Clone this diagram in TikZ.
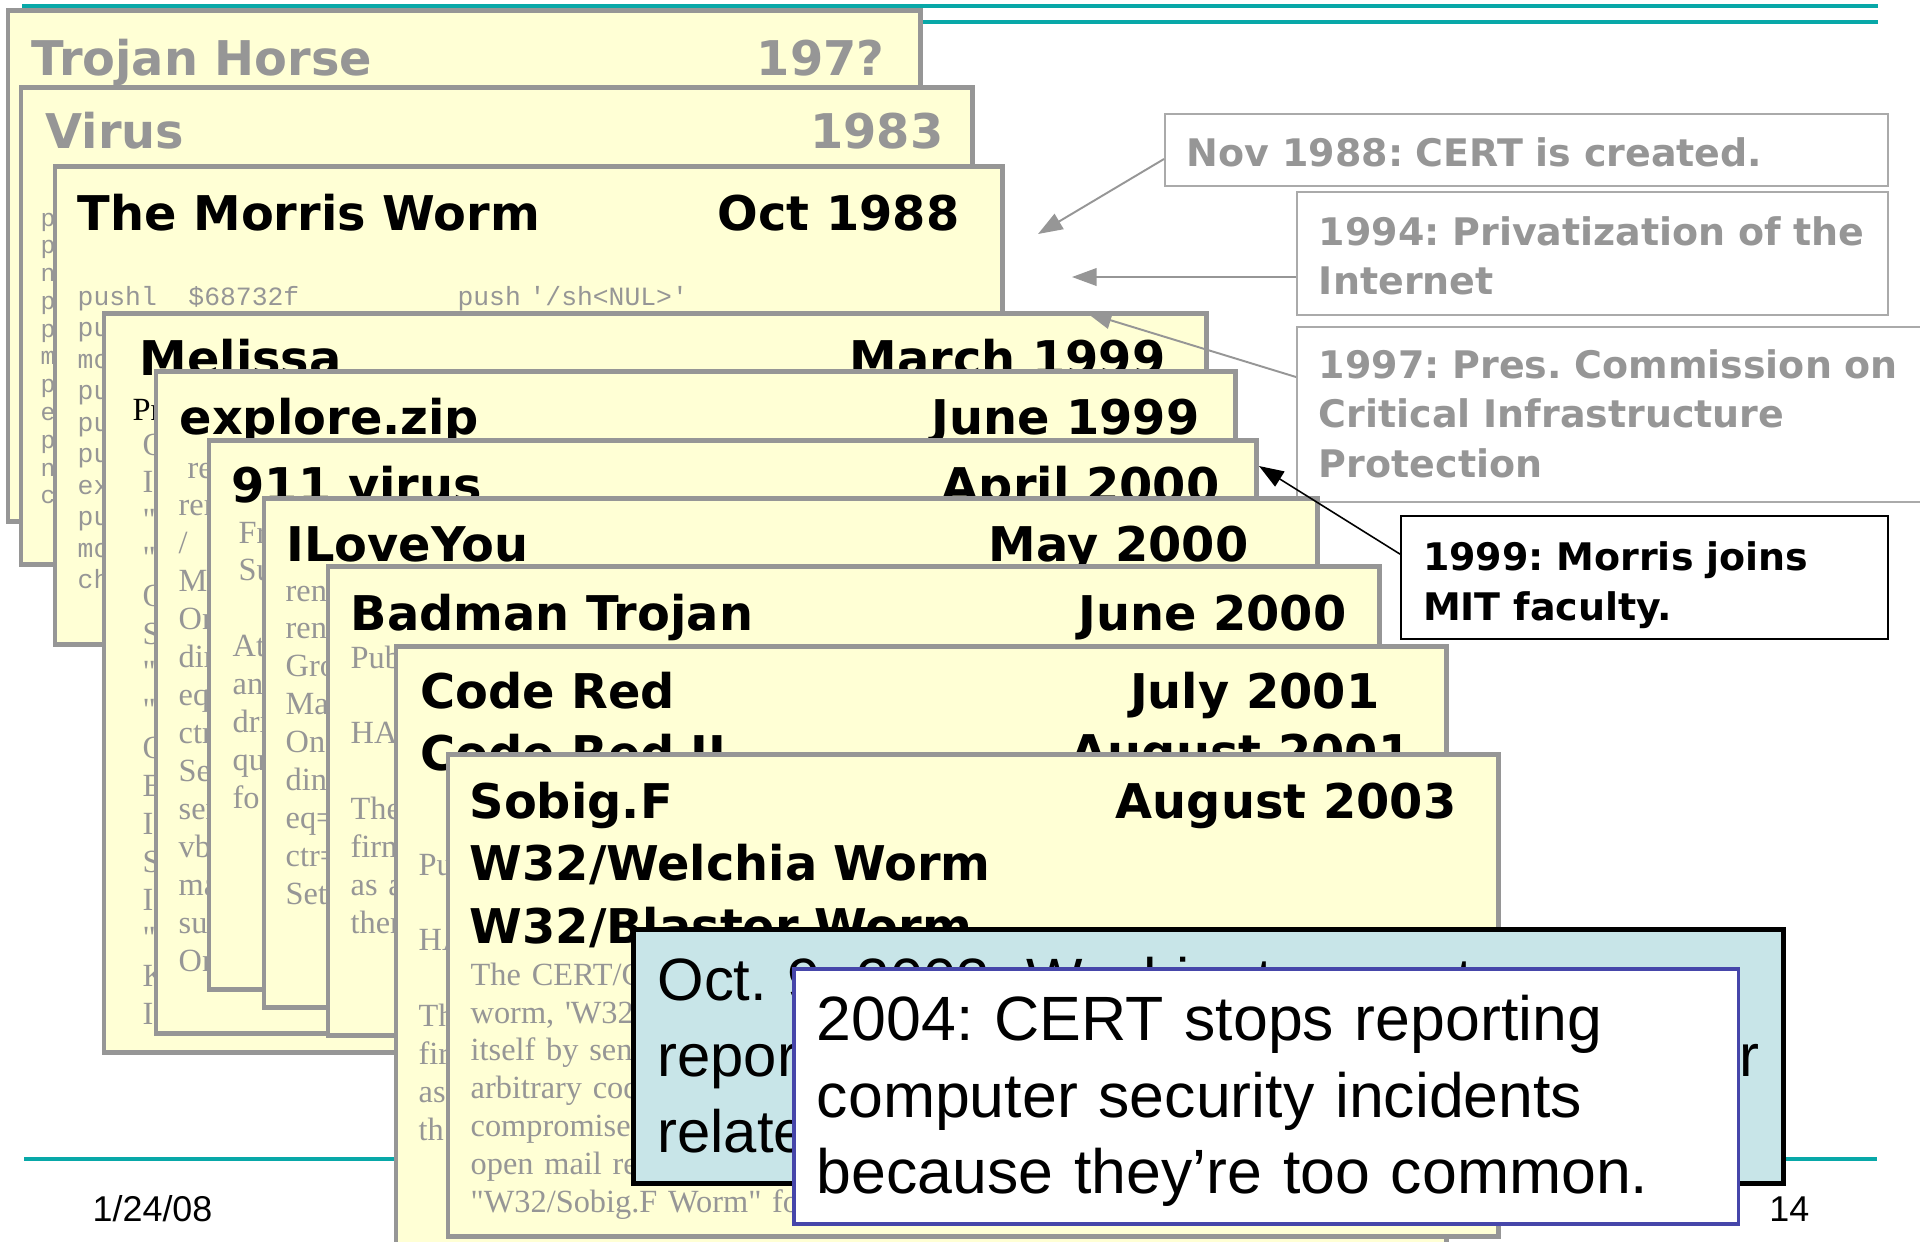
\documentclass[tikz,border=0pt]{standalone}
\usepackage{fontspec}
\setmainfont{Liberation Serif}
\newfontfamily\vfont{DejaVu Sans}
\newfontfamily\afont{Liberation Sans}
\newfontfamily\tfont{Liberation Serif}
\newfontfamily\cfont{Liberation Mono}
\usepackage{tikz}
\usetikzlibrary{arrows.meta}

\definecolor{rulecol}{RGB}{8,168,168}
\definecolor{cardfill}{RGB}{255,255,213}
\definecolor{cardline}{RGB}{150,150,150}
\definecolor{greytext}{RGB}{150,150,150}
\definecolor{noteline}{RGB}{170,170,170}
\definecolor{postfill}{RGB}{200,229,232}
\definecolor{quitline}{RGB}{70,70,170}

\begin{document}
\frenchspacing
\begin{tikzpicture}[
  x=0.01cm, y=-0.01cm,
  rule/.style={draw=rulecol, line width=1.1pt},
  card/.style={draw=cardline, fill=cardfill, line width=1.42pt},
  cardtitle/.style={font=\vfont\bfseries\fontsize{13.6}{17.8}\selectfont, inner sep=0pt, anchor=base west},
  carddate/.style={cardtitle, anchor=base east},
  codetxt/.style={font=\cfont\fontsize{7.5}{8.96}\selectfont, text=greytext, inner sep=0pt, anchor=base west, text width=10cm, align=left},
  bodytxt/.style={font=\tfont\fontsize{9.2}{10.8}\selectfont, text=greytext, inner sep=0pt, anchor=base west, text width=5cm, align=left},
  note/.style={draw=noteline, line width=0.55pt, anchor=north west, inner ysep=0pt, inner xsep=0.22cm, align=left, text=greytext, font=\vfont\bfseries\fontsize{10.8}{14.2}\selectfont},
  notearrow/.style={draw=cardline, line width=0.55pt, -{Triangle[length=7pt,width=5pt]}},
  bigbox/.style={anchor=north west, inner ysep=0pt, align=left, font=\afont\fontsize{17}{21.6}\selectfont},
  foot/.style={font=\afont\fontsize{10.2}{12}\selectfont, inner sep=0pt, anchor=base west}
]
\useasboundingbox (0,0) rectangle (1920,1241);

% slide rules
\draw[rule] (22,6) -- (1878,6);
\draw[rule] (22,22) -- (1878,22);
\draw[rule] (24,1159) -- (1877,1159);

% notes on the right
\node[note, text width=6.79cm, text height=0.52cm, text depth=0.20cm] (nov) at (1164,113) {Nov~1988:~CERT~is~created.};
\node[note, text width=5.47cm, text height=0.53cm, text depth=0.70cm] (priv) at (1296,191) {1994:~Privatization~of~the\\Internet};
\node[note, text width=5.85cm, text height=0.51cm, text depth=1.24cm] (pres) at (1296,326) {1997:~Pres.~Commission~on\\Critical Infrastructure\\Protection};

% the stack of cards
\draw[card] (8,10) rectangle (920,521);
\node[cardtitle, text=greytext] (trojan) at (31,75) {Trojan Horse};
\node[carddate, text=greytext] (trojandate) at (885,75) {197?};

\draw[card] (21,87) rectangle (972,564);
\node[cardtitle, text=greytext] (virus) at (45,148) {Virus};
\node[carddate, text=greytext] (virusdate) at (944,148) {1983};
\node[codetxt, font=\cfont\fontsize{7}{7.9}\selectfont] (viruscode) at (40,226) {p\\p\\n\\p\\p\\m\\p\\e\\p\\n\\c};

\draw[card] (55,166) rectangle (1002,644);
\node[cardtitle] (morris) at (77,230) {The Morris Worm};
\node[carddate] (morrisdate) at (960,230) {Oct 1988};
\node[codetxt] (morriscode) at (77,305) {pushl\hspace{1.2em}\$68732f\hspace{6em}push~'/sh<NUL>'\\pu\\mo\\pu\\pu\\pu\\ex\\pu\\mo\\ch};

\draw[card] (104,313) rectangle (1206,1052);
\node[cardtitle] (melissa) at (139,375) {Melissa};
\node[carddate] (melissadate) at (1166,375) {March 1999};
\node[bodytxt, text=black] (melissalead) at (132,420) {Pr};
\node[bodytxt] (melissabody) at (142,455) {O\\I\\"\\"\\O\\S\\"\\"\\O\\E\\I\\S\\I\\"\\K\\I};

\draw[card] (156,371) rectangle (1235,1033);
\node[cardtitle] (explore) at (179,434) {explore.zip};
\node[carddate] (exploredate) at (1200,434) {June 1999};
\node[bodytxt] (explorebody) at (178,478) {\hspace*{0.09cm}re\\ren\\/\\M\\On\\dir\\eq\\ctr\\Se\\ser\\vb\\ma\\su\\On};

\draw[card] (209,440) rectangle (1256,989);
\node[cardtitle] (nine) at (231,502) {911 virus};
\node[carddate] (ninedate) at (1220,502) {April 2000};
\node[bodytxt] (ninebody) at (232,543) {\hspace*{0.06cm}Fr\\\hspace*{0.06cm}Su\\[10.8pt]At\\an\\dri\\qu\\fo};

\draw[card] (264,498) rectangle (1317,1007);
\node[cardtitle] (iloveyou) at (286,561) {ILoveYou};
\node[carddate] (iloveyoudate) at (1249,561) {May 2000};
\node[bodytxt] (iloveyoubody) at (285,601) {ren\\ren\\Gro\\Ma\\On\\din\\eq=\\ctr=\\Set};

\draw[card] (328,566) rectangle (1379,1035);
\node[cardtitle] (badman) at (350,630) {Badman Trojan};
\node[carddate] (badmandate) at (1347,630) {June 2000};
\node[bodytxt] (badmanbody) at (350,668) {Pub\\[10.8pt]HA\\[10.8pt]The\\firm\\as a\\ther};

\draw[card] (396,646) rectangle (1446,1260);
\node[cardtitle, text width=6cm] (codered) at (420,708) {Code Red\\Code Red II};
\node[carddate] (codereddate) at (1380,708) {July 2001};
\node[carddate] (codered2date) at (1412,769) {August 2001};
\node[bodytxt] (coderedbody) at (418,875) {Pu\\[10.8pt]HA\\[10.8pt]Th\\fir\\as\\th};

\draw[card] (448,754) rectangle (1498,1236);
\node[cardtitle, text width=7cm] (sobig) at (469,818) {Sobig.F\\W32/Welchia Worm\\W32/Blaster Worm};
\node[carddate] (sobigdate) at (1457,818) {August 2003};
\node[bodytxt] (sobigbody) at (470,985) {The CERT/C\\worm, 'W32\\itself by sen\\arbitrary cod\\compromise\\open mail re\\"W32/Sobig.F Worm" fo};

% arrows from the notes
\coordinate (certtip) at (1038,234);
\coordinate (privtip) at (1072,277);
\coordinate (prestip) at (1087,313);
\coordinate (mittip) at (1259,466);
\draw[notearrow] ([yshift=-0.09cm]nov.west) -- (certtip);
\draw[notearrow] (priv.west |- privtip) -- (privtip);
\draw[notearrow] ([yshift=0.375cm]pres.west) -- (prestip);

\node[note, draw=black, line width=0.6pt, text=black, text width=4.43cm, text height=0.54cm, text depth=0.69cm] (mit) at (1400,515) {1999: Morris joins\\MIT faculty.};
\draw[notearrow, draw=black, line width=0.45pt] ([yshift=0.235cm]mit.west) -- (mittip);

% overlays at the bottom
\node[bigbox, draw=black, line width=1.42pt, fill=postfill, inner xsep=0.24cm, text width=11.01cm, text height=0.71cm, text depth=1.83cm] (post) at (631,927) {Oct. 9, 2003: Washington post\\report\hfill r\\relate};
\node[bigbox, draw=quitline, line width=1.1pt, fill=white, inner xsep=0.23cm, text width=8.98cm, text height=0.72cm, text depth=1.83cm, font=\afont\fontsize{17.8}{21.7}\selectfont] (quit) at (792,967) {2004: CERT stops reporting\\computer security incidents\\because they’re too common.};

% footer
\node[foot] (date) at (92,1221) {1/24/08};
\node[foot, anchor=base east] (page) at (1810,1221) {14};
\end{tikzpicture}
\end{document}
